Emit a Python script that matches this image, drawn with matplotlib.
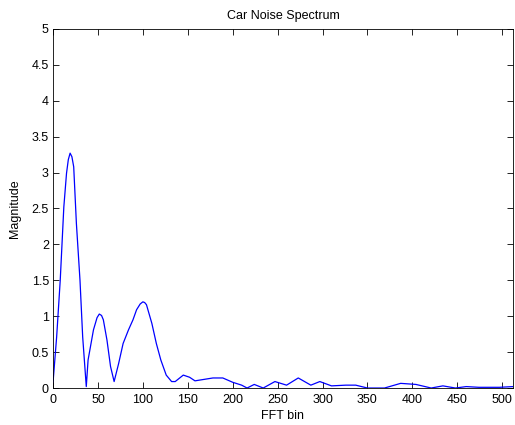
import numpy as np
import matplotlib
matplotlib.use('Agg')
import matplotlib.pyplot as plt

# Values (FFT bin, magnitude)
bins = [0, 4, 8, 12, 15, 17, 19, 21, 23, 26, 30, 33, 37, 39, 45, 49, 51.5, 54,
        56, 60, 64, 68, 73, 78, 84, 89, 93, 97, 100, 102, 104, 110, 115, 120,
        126, 132, 136, 141, 145, 152, 158, 168, 178, 189, 200, 210, 216, 224,
        234, 247, 260, 273, 287, 297, 310, 326, 337, 350, 369, 387, 404, 421,
        434, 448, 460, 474, 497, 512]
magnitude = [0.08, 0.71, 1.5, 2.52, 2.99, 3.18, 3.27, 3.22, 3.08, 2.29, 1.5, 0.71,
             0.02, 0.39, 0.81, 0.98, 1.03, 1.01, 0.95, 0.67, 0.30, 0.09, 0.34,
             0.62, 0.81, 0.95, 1.09, 1.17, 1.20, 1.19, 1.16, 0.90, 0.62, 0.39,
             0.18, 0.09, 0.09, 0.14, 0.18, 0.15, 0.10, 0.12, 0.14, 0.14, 0.08,
             0.04, 0.0, 0.05, 0.0, 0.09, 0.04, 0.14, 0.04, 0.09, 0.03, 0.04,
             0.04, 0.0, 0.0, 0.065, 0.05, 0.0, 0.03, 0.0, 0.02, 0.01, 0.01, 0.02]

xticks = np.arange(0, 501, 50)
yticks = np.arange(0, 5.01, 0.5)

plt.rcParams['font.family'] = ['Liberation Sans', 'DejaVu Sans']

fig = plt.figure(figsize=(5.15, 4.25), dpi=100)
ax = fig.add_axes([0.103, 0.087, 0.893, 0.845])
ax.plot(bins, magnitude, color='#0000ff', linewidth=0.9)

ax.set_xlim(0, 512)
ax.set_ylim(0, 5)
ax.set_xticks(xticks)
ax.set_yticks(yticks)
ax.set_yticklabels(['0', '0.5', '1', '1.5', '2', '2.5', '3', '3.5', '4', '4.5', '5'])
ax.tick_params(direction='in', top=True, right=True, labelsize=9, length=4, width=0.6)
ax.tick_params(axis='x', pad=4)
ax.tick_params(axis='y', pad=3)
for s in ax.spines.values():
    s.set_linewidth(0.6)

ax.set_title('Car Noise Spectrum', fontsize=9, pad=7)
ax.set_xlabel('FFT bin', fontsize=9, labelpad=3)
ax.set_ylabel('Magnitude', fontsize=9, labelpad=8)

fig.savefig('out.png', dpi=100)
